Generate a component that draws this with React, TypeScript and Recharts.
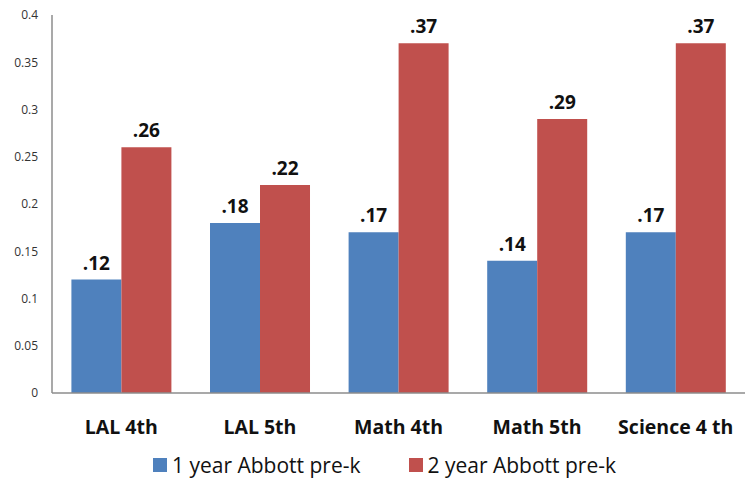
import { Bar, BarChart, LabelList, Legend, XAxis, YAxis } from "recharts";

const categories = ["LAL 4th", "LAL 5th", "Math 4th", "Math 5th", "Science 4 th"];
const oneYear = [0.12, 0.18, 0.17, 0.14, 0.17];
const twoYear = [0.26, 0.22, 0.37, 0.29, 0.37];
const yTicks = [0, 0.05, 0.1, 0.15, 0.2, 0.25, 0.3, 0.35, 0.4];
const seriesNames = ["1 year Abbott pre-k", "2 year Abbott pre-k"];

const BLUE = "#4F81BD";
const RED = "#C0504D";
const FONT = "'Open Sans', 'Liberation Sans', sans-serif";

const data = categories.map((name, i) => ({ name, one: oneYear[i], two: twoYear[i] }));

const fmt = (v: number) => String(v).replace(/^0/, "");

const LegendBox = () => (
    <div style={{ height: 36, boxSizing: "border-box", paddingTop: 8, paddingLeft: 24, display: "flex", justifyContent: "center", alignItems: "center", fontFamily: FONT, fontSize: 21, color: "#111" }}>
        {seriesNames.map((n, i) => (
            <span key={n} style={{ display: "inline-flex", alignItems: "center", marginRight: i === 0 ? 48 : 0 }}>
                <span style={{ display: "inline-block", width: 14, height: 14, background: i === 0 ? BLUE : RED, marginRight: 5 }} />
                {n}
            </span>
        ))}
    </div>
);

export default function App() {
    return (
        <div style={{ position: "absolute", left: 0, top: 0, background: "#fff" }}>
            <BarChart width={745} height={479} data={data} margin={{ top: 15, right: 0, left: 0, bottom: 0 }} barGap={0} barCategoryGap="14%">
                <XAxis
                    dataKey="name"
                    height={50}
                    axisLine={{ stroke: "#8c8c8c", strokeWidth: 1.5 }}
                    tickLine={false}
                    tickSize={0}
                    tickMargin={27}
                    interval={0}
                    tick={{ fill: "#111", fontSize: 19.5, fontWeight: 700, fontFamily: FONT }}
                />
                <YAxis
                    width={52}
                    domain={[0, 0.4]}
                    ticks={yTicks}
                    interval={0}
                    axisLine={{ stroke: "#8c8c8c", strokeWidth: 1.5 }}
                    tickLine={false}
                    tickSize={0}
                    tickMargin={14}
                    tick={{ fill: "#333", fontSize: 12, fontFamily: FONT }}
                />
                <Legend verticalAlign="bottom" content={<LegendBox />} />
                <Bar dataKey="one" fill={BLUE} isAnimationActive={false}>
                    <LabelList dataKey="one" position="top" offset={10} formatter={(v: any) => fmt(v)} style={{ fill: "#111", fontSize: 19, fontWeight: 700, fontFamily: FONT }} />
                </Bar>
                <Bar dataKey="two" fill={RED} isAnimationActive={false}>
                    <LabelList dataKey="two" position="top" offset={10} formatter={(v: any) => fmt(v)} style={{ fill: "#111", fontSize: 19, fontWeight: 700, fontFamily: FONT }} />
                </Bar>
            </BarChart>
        </div>
    );
}
